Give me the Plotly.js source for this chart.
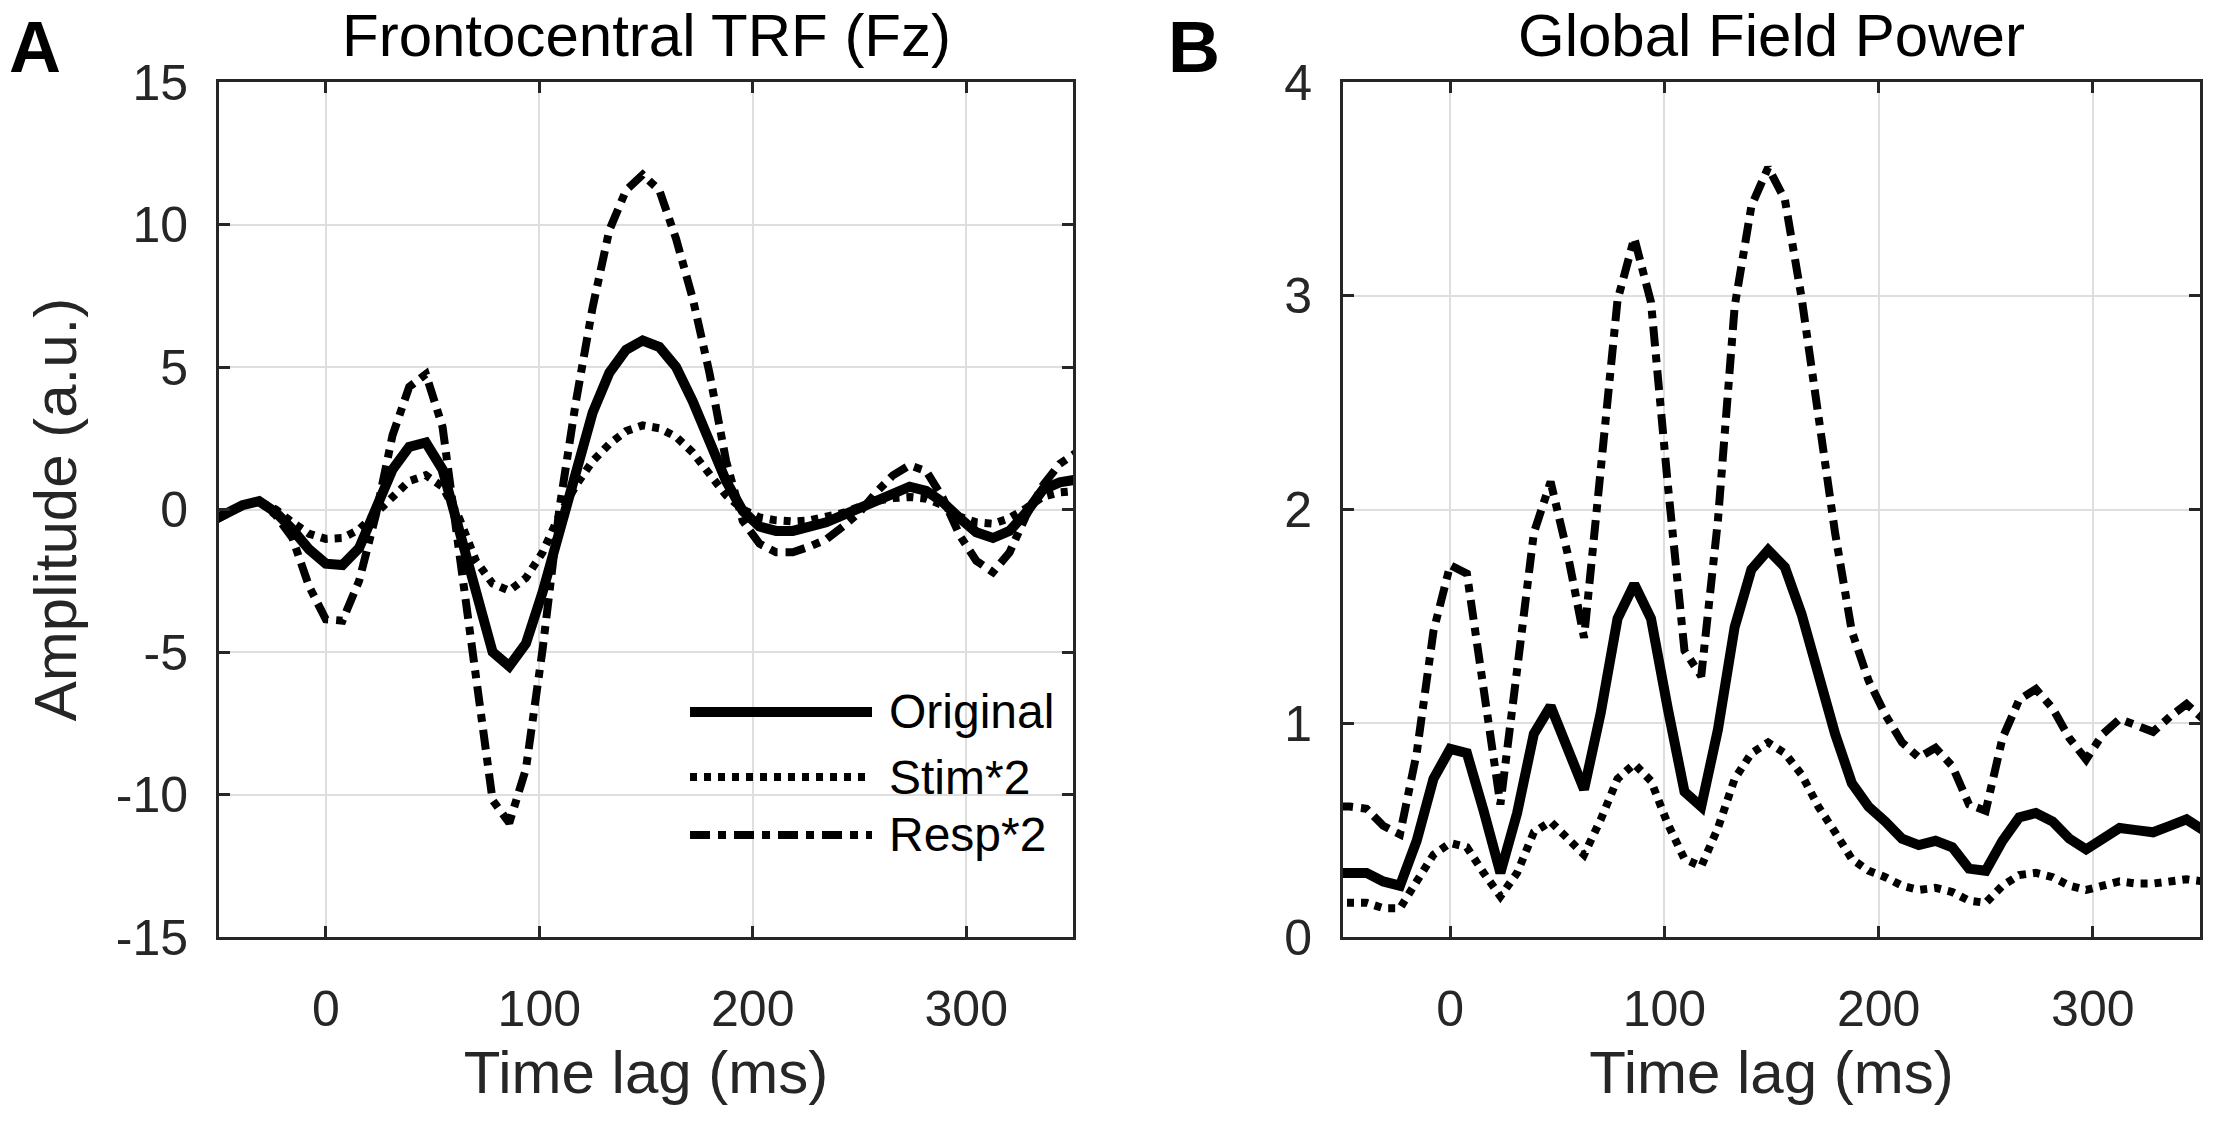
<!DOCTYPE html>
<html>
<head>
<meta charset="utf-8">
<script src="https://cdn.plot.ly/plotly-3.0.1.min.js"></script>
<style>
  body { margin: 0; background: #ffffff; overflow: hidden; }
  #plotly-chart { width: 2217px; height: 1124px; }
</style>
</head>
<body>
<div id="plotly-chart"></div>
<script>
// time lags of the TRF samples (ms), 128 Hz sampling
const lagMs = [-54.69, -46.88, -39.06, -31.25, -23.44, -15.63, -7.81, 0, 7.81, 15.63,
    23.44, 31.25, 39.06, 46.88, 54.69, 62.5, 70.31, 78.13, 85.94, 93.75,
    101.56, 109.38, 117.19, 125, 132.81, 140.63, 148.44, 156.25, 164.06, 171.88,
    179.69, 187.5, 195.31, 203.13, 210.94, 218.75, 226.56, 234.38, 242.19, 250,
    257.81, 265.63, 273.44, 281.25, 289.06, 296.88, 304.69, 312.5, 320.31, 328.13,
    335.94, 343.75, 351.56];

// panel A: frontocentral TRF at Fz
const trfOriginal = [-0.45, -0.12, 0.15, 0.29, -0.1, -0.7, -1.4, -1.9, -1.95, -1.35,
    0.05, 1.4, 2.2, 2.35, 1.4, -0.8, -3.0, -5.0, -5.5, -4.7,
    -2.9, -0.7, 1.4, 3.4, 4.8, 5.6, 5.93, 5.7, 5.0, 3.8,
    2.4, 1.0, -0.05, -0.6, -0.75, -0.75, -0.6, -0.45, -0.2, 0.05,
    0.35, 0.6, 0.8, 0.65, 0.25, -0.3, -0.8, -1.0, -0.75, -0.1,
    0.7, 0.95, 1.05];
const trfStim = [-0.4, -0.1, 0.15, 0.28, 0.0, -0.45, -0.85, -1.03, -1.0, -0.7,
    -0.1, 0.5, 1.0, 1.2, 0.8, -0.3, -1.8, -2.6, -2.85, -2.4,
    -1.5, -0.2, 0.85, 1.7, 2.3, 2.75, 2.95, 2.85, 2.55, 2.0,
    1.25, 0.5, 0.0, -0.28, -0.38, -0.42, -0.38, -0.28, -0.12, 0.1,
    0.3, 0.4, 0.44, 0.38, 0.15, -0.25, -0.45, -0.5, -0.3, 0.05,
    0.45, 0.6, 0.65];
const trfResp = [-0.5, -0.15, 0.15, 0.3, -0.2, -1.0, -2.7, -3.85, -3.9, -2.5,
    -0.2, 2.6, 4.3, 4.75, 2.9, -1.5, -5.8, -10.2, -11.0, -9.1,
    -4.9, 0.0, 3.8, 7.1, 9.8, 11.2, 11.75, 11.2, 9.5, 7.4,
    4.8, 1.7, -0.4, -1.2, -1.5, -1.5, -1.3, -1.05, -0.6, -0.1,
    0.6, 1.2, 1.55, 1.35, 0.4, -0.9, -1.8, -2.2, -1.5, -0.2,
    0.85, 1.6, 2.0];

// panel B: global field power
const gfpOriginal = [0.30, 0.30, 0.30, 0.26, 0.24, 0.45, 0.74, 0.88, 0.86, 0.59,
    0.30, 0.58, 0.95, 1.08, 0.89, 0.69, 1.05, 1.49, 1.65, 1.49,
    1.07, 0.68, 0.61, 0.97, 1.45, 1.72, 1.81, 1.73, 1.51, 1.22,
    0.95, 0.72, 0.61, 0.54, 0.46, 0.43, 0.45, 0.42, 0.32, 0.31,
    0.45, 0.56, 0.58, 0.54, 0.46, 0.41, 0.46, 0.51, 0.50, 0.49,
    0.52, 0.55, 0.50];
const gfpStim = [0.16, 0.16, 0.16, 0.135, 0.135, 0.26, 0.385, 0.44, 0.42, 0.30,
    0.19, 0.30, 0.49, 0.54, 0.46, 0.385, 0.55, 0.74, 0.81, 0.73,
    0.53, 0.365, 0.33, 0.51, 0.74, 0.86, 0.91, 0.86, 0.76, 0.61,
    0.49, 0.365, 0.31, 0.28, 0.24, 0.22, 0.23, 0.21, 0.17, 0.16,
    0.24, 0.29, 0.30, 0.28, 0.24, 0.22, 0.24, 0.26, 0.25, 0.25,
    0.26, 0.27, 0.26];
const gfpResp = [0.61, 0.61, 0.60, 0.52, 0.48, 0.86, 1.43, 1.74, 1.70, 1.18,
    0.62, 1.25, 1.89, 2.13, 1.80, 1.40, 2.15, 2.98, 3.27, 2.97,
    2.12, 1.34, 1.22, 1.95, 2.95, 3.42, 3.60, 3.45, 2.99, 2.43,
    1.89, 1.43, 1.20, 1.04, 0.91, 0.84, 0.885, 0.80, 0.62, 0.59,
    0.93, 1.11, 1.16, 1.07, 0.93, 0.83, 0.95, 1.02, 0.99, 0.96,
    1.03, 1.09, 1.02];

const seriesNames = ['Original', 'Stim*2', 'Resp*2'];
const xTicks = [0, 100, 200, 300];
const xTickLabels = ['0', '100', '200', '300'];
const yTicksA = [-15, -10, -5, 0, 5, 10, 15];
const yTickLabelsA = ['-15', '-10', '-5', '0', '5', '10', '15'];
const yTicksB = [0, 1, 2, 3, 4];
const yTickLabelsB = ['0', '1', '2', '3', '4'];

const FONT = 'Liberation Sans, Arial, Helvetica, sans-serif';
const INK = '#262626';

const lineStyles = [
    { color: '#000000', width: 10, dash: 'solid' },
    { color: '#000000', width: 8, dash: '7px,7px' },
    { color: '#000000', width: 8, dash: '20px,8px,8px,8px' },
];

function makeTrace(y, i, xaxis, yaxis) {
    return {
        x: lagMs,
        y: y,
        type: 'scatter',
        mode: 'lines',
        name: seriesNames[i],
        line: lineStyles[i],
        xaxis: xaxis,
        yaxis: yaxis,
        showlegend: false,
        hoverinfo: 'skip',
    };
}

const data = [
    makeTrace(trfOriginal, 0, 'x', 'y'),
    makeTrace(trfStim, 1, 'x', 'y'),
    makeTrace(trfResp, 2, 'x', 'y'),
    makeTrace(gfpOriginal, 0, 'x2', 'y2'),
    makeTrace(gfpStim, 1, 'x2', 'y2'),
    makeTrace(gfpResp, 2, 'x2', 'y2'),
];

const axisStyle = {
    showline: true,
    mirror: 'ticks',
    linecolor: INK,
    linewidth: 3,
    ticks: 'inside',
    ticklen: 11,
    tickwidth: 3,
    tickcolor: INK,
    showgrid: true,
    gridcolor: '#dedede',
    gridwidth: 2,
    zeroline: false,
    fixedrange: true,
    tickfont: { family: FONT, size: 50, color: INK },
};

function xAxis(domain, anchor) {
    return Object.assign({}, axisStyle, {
        domain: domain,
        anchor: anchor,
        range: [-50, 350],
        tickmode: 'array',
        tickvals: xTicks,
        ticktext: xTickLabels,
        ticklabelstandoff: 26,
        title: { text: 'Time lag (ms)', font: { family: FONT, size: 60, color: INK }, standoff: 15 },
    });
}

function yAxis(range, ticks, labels, anchor, title) {
    return Object.assign({}, axisStyle, {
        domain: [0, 1],
        anchor: anchor,
        range: range,
        tickmode: 'array',
        tickvals: ticks,
        ticktext: labels,
        ticklabelstandoff: 18,
        title: { text: title, font: { family: FONT, size: 60, color: INK }, standoff: 20 },
    });
}

// legend drawn by hand so the line samples are as long as in the figure
const legendRows = [0.2632, 0.1871, 0.1193];
const legendShapes = lineStyles.map((style, i) => ({
    type: 'line',
    xref: 'x domain', yref: 'y domain',
    x0: 0.5515, x1: 0.7646, y0: legendRows[i], y1: legendRows[i],
    line: style,
    layer: 'above',
}));
const legendLabels = seriesNames.map((name, i) => ({
    text: name,
    xref: 'x domain', yref: 'y domain',
    x: 0.7822, y: legendRows[i],
    xanchor: 'left', yanchor: 'middle',
    showarrow: false,
    font: { family: FONT, size: 48, color: '#000000' },
}));

const layout = {
    width: 2217,
    height: 1124,
    paper_bgcolor: '#ffffff',
    plot_bgcolor: '#ffffff',
    margin: { t: 82, r: 0, b: 187, l: 0, pad: 0 },
    showlegend: false,
    hovermode: false,
    xaxis: xAxis([0.0988, 0.4840], 'y'),
    yaxis: yAxis([-15, 15], yTicksA, yTickLabelsA, 'x', 'Amplitude (a.u.)'),
    xaxis2: xAxis([0.6058, 0.9923], 'y2'),
    yaxis2: yAxis([0, 4], yTicksB, yTickLabelsB, 'x2', ''),
    shapes: legendShapes,
    annotations: [
        {
            text: 'Frontocentral TRF (Fz)',
            xref: 'x domain', yref: 'y domain', x: 0.5, y: 1.054,
            xanchor: 'center', yanchor: 'middle', showarrow: false,
            font: { family: FONT, size: 60, color: '#000000' },
        },
        {
            text: 'Global Field Power',
            xref: 'x2 domain', yref: 'y2 domain', x: 0.5, y: 1.054,
            xanchor: 'center', yanchor: 'middle', showarrow: false,
            font: { family: FONT, size: 60, color: '#000000' },
        },
        {
            text: '<b>A</b>',
            xref: 'paper', yref: 'paper', x: 0.0158, y: 1.041,
            xanchor: 'center', yanchor: 'middle', showarrow: false,
            font: { family: FONT, size: 72, color: '#000000' },
        },
        {
            text: '<b>B</b>',
            xref: 'paper', yref: 'paper', x: 0.5385, y: 1.041,
            xanchor: 'center', yanchor: 'middle', showarrow: false,
            font: { family: FONT, size: 72, color: '#000000' },
        },
    ].concat(legendLabels),
};

const config = {
    responsive: false,
    displayModeBar: false,
    staticPlot: true,
};

Plotly.newPlot('plotly-chart', data, layout, config);
</script>
</body>
</html>
